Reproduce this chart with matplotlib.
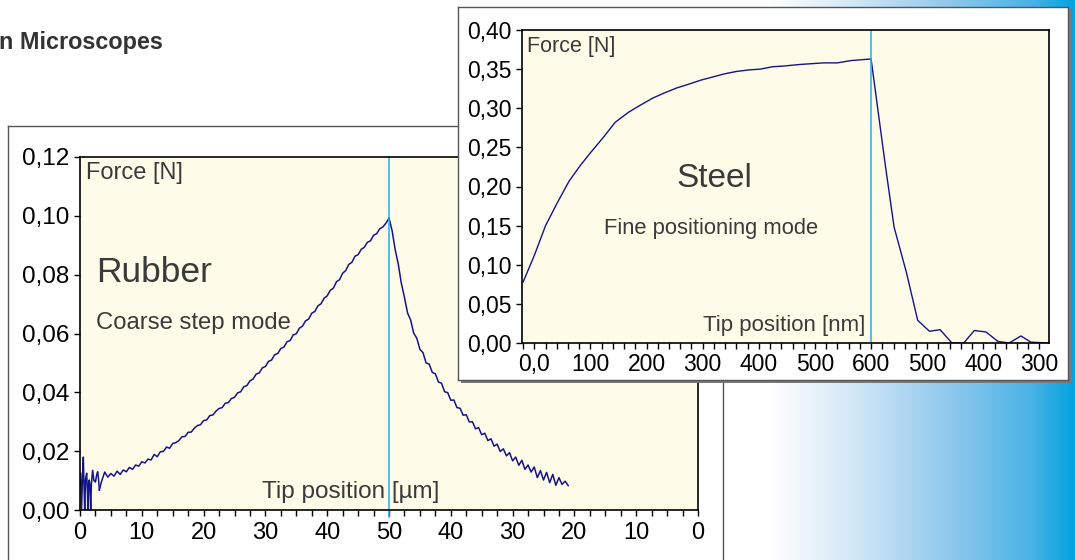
import matplotlib
matplotlib.use('Agg')
import matplotlib.pyplot as plt
import numpy as np
from matplotlib.ticker import MultipleLocator, FuncFormatter

plt.rcParams['font.family'] = ['Liberation Sans', 'DejaVu Sans']

# Rubber, coarse step mode: tip travel unfolded to 0..100 um (0-50 approach, 50-100 retract)
rubber_spike_pos = [0.1, 0.25, 0.4, 0.54, 0.65, 0.76, 0.9, 1.08, 1.2, 1.3, 1.4, 1.5,
                    1.6, 1.73, 1.85, 2.05, 2.25, 2.5, 2.7, 2.86, 3.0, 3.13]
rubber_spike_mN = [12.5, 0.0, 11.0, 18.0, 8.0, 0.0, 10.5, 12.5, 6.0, 0.0, 9.0, 10.2,
                   8.5, 0.0, 9.0, 13.5, 10.0, 9.5, 12.0, 13.0, 10.5, 6.8]
rubber_approach_pos = np.arange(3.5, 50.01, 0.5)
rubber_approach_mN = [9.8, 12.9, 11.2, 12.4, 11.5, 13.2, 12.1, 13.6, 13.0, 14.5,
                      13.8, 15.3, 14.9, 16.4, 16.0, 17.3, 17.0, 18.9, 18.1, 19.8,
                      19.9, 21.4, 21.0, 22.6, 22.9, 23.6, 24.9, 25.0, 26.4, 26.5,
                      27.8, 28.7, 29.0, 30.4, 30.6, 32.1, 32.3, 33.6, 34.5, 34.8,
                      36.3, 36.5, 37.9, 38.3, 39.8, 40.2, 41.9, 42.3, 43.9, 44.5,
                      46.2, 46.6, 48.3, 48.8, 50.5, 51.0, 52.8, 53.2, 54.9, 55.4,
                      57.2, 57.6, 59.5, 59.9, 61.8, 62.5, 64.3, 64.9, 66.9, 67.5,
                      69.4, 70.1, 72.0, 72.8, 74.7, 75.4, 77.6, 78.3, 80.5, 81.4,
                      83.5, 84.2, 86.3, 86.8, 88.6, 89.3, 91.0, 91.5, 93.4, 93.9,
                      95.6, 96.2, 97.5, 99.2]
rubber_retract_pos = np.arange(50.5, 79.01, 0.5)
rubber_retract_mN = [95.0, 88.5, 83.6, 77.0, 72.3, 67.0, 64.6, 60.1, 58.4, 54.6,
                     53.5, 50.0, 49.6, 46.8, 46.3, 43.5, 43.1, 40.2, 39.9, 37.3,
                     37.4, 34.8, 34.6, 32.2, 32.4, 29.9, 30.0, 27.6, 28.0, 25.6,
                     26.1, 23.6, 24.2, 21.7, 22.4, 19.9, 20.8, 18.4, 19.5, 16.7,
                     18.0, 15.2, 16.9, 13.8, 15.3, 12.9, 14.6, 11.0, 13.4, 10.2,
                     12.8, 9.3, 12.1, 8.4, 11.0, 8.7, 9.8, 8.3]
rubber_ticks = np.arange(0, 101, 10)
rubber_ticklabels = ['0', '10', '20', '30', '40', '50', '40', '30', '20', '10', '0']

# Steel, fine positioning mode: tip travel unfolded (0-600 approach, then retract)
steel_pos = [-20, 0, 20, 40, 62, 82, 101, 122, 144, 168, 189, 211, 233, 254, 276,
             297, 318, 339, 360, 382, 403, 424, 445, 474, 495, 516, 540, 565, 583, 600,
             625, 641, 663, 683, 704, 723, 744, 765, 784, 805, 826, 846, 867, 885, 916]
steel_force = [0.078, 0.112, 0.150, 0.178, 0.207, 0.227, 0.244, 0.262, 0.282, 0.295,
               0.304, 0.313, 0.320, 0.326, 0.331, 0.336, 0.340, 0.344, 0.347, 0.349,
               0.350, 0.353, 0.354, 0.356, 0.357, 0.358, 0.358, 0.361, 0.362, 0.363,
               0.229, 0.148, 0.090, 0.029, 0.015, 0.017, 0.0, 0.0, 0.016, 0.014,
               0.002, 0.0, 0.009, 0.001, 0.0]
steel_ticks = np.arange(0, 901, 100)
steel_ticklabels = ['0,0', '100', '200', '300', '400', '500', '600', '500', '400', '300']

W, H = 1075, 560
LINE = '#14148a'
CYAN = '#1cb0ee'
CREAM = '#fefce8'
TXT = '#3a3a3a'


def box(x0, y0, x1, y1):
    # pixel box (top-left origin) -> figure fraction rect
    return [x0 / W, 1 - y1 / H, (x1 - x0) / W, (y1 - y0) / H]


comma = FuncFormatter(lambda v, p: f'{v:.2f}'.replace('.', ','))

fig = plt.figure(figsize=(W / 100, H / 100), dpi=100)

# background with blue gradient on the right
bg = fig.add_axes([0, 0, 1, 1], zorder=0)
grad_x = [0, 770, 850, 950, 1030, 1075]
grad_r = [255, 255, 212, 143, 74, 0]
grad_g = [255, 255, 232, 200, 179, 163]
grad_b = [255, 255, 247, 236, 230, 223]
xs = np.arange(W)
img = np.stack([np.interp(xs, grad_x, grad_r), np.interp(xs, grad_x, grad_g),
                np.interp(xs, grad_x, grad_b)], axis=-1)[None, :, :] / 255
bg.imshow(img, extent=[0, W, H, 0], aspect='auto')
bg.set_xlim(0, W)
bg.set_ylim(H, 0)
bg.axis('off')
bg.text(-1, 42, 'n Microscopes', fontsize=16.8, fontweight='bold', color='#333333',
        va='center', ha='left')

# rubber panel
rp = fig.add_axes(box(8, 126, 723, 600), zorder=0.5)
rp.set_facecolor('white')
rp.set_xticks([])
rp.set_yticks([])
for s in rp.spines.values():
    s.set_color('#555555')
    s.set_linewidth(1)

ax1 = fig.add_axes(box(80, 157, 698, 510), zorder=1)
ax1.set_facecolor(CREAM)
ax1.plot(rubber_spike_pos, np.array(rubber_spike_mN) / 1000, color=LINE, lw=1.1)
ax1.plot(np.concatenate([[rubber_spike_pos[-1]], rubber_approach_pos]),
         np.array([rubber_spike_mN[-1]] + rubber_approach_mN) / 1000, color=LINE, lw=1.1)
ax1.plot(np.concatenate([[rubber_approach_pos[-1]], rubber_retract_pos]),
         np.array([rubber_approach_mN[-1]] + rubber_retract_mN) / 1000, color=LINE, lw=1.1)
ax1.axvline(50, ymin=-0.02, ymax=1, color=CYAN, lw=1.1, clip_on=False)
ax1.set_xlim(0, 100)
ax1.set_ylim(0, 0.12)
ax1.set_xticks(rubber_ticks)
ax1.set_xticklabels(rubber_ticklabels)
ax1.xaxis.set_minor_locator(MultipleLocator(2.5))
ax1.set_yticks(np.arange(0, 0.121, 0.02))
ax1.yaxis.set_major_formatter(comma)
ax1.tick_params(which='both', direction='out', length=4.5, width=1, colors='black',
                labelsize=17.5, pad=3)
ax1.tick_params(axis='x', labelsize=17, pad=4)
for s in ax1.spines.values():
    s.set_linewidth(1.2)
ax1.text(0.01, 0.985, 'Force [N]', transform=ax1.transAxes, fontsize=17, color=TXT,
         ha='left', va='top')
ax1.text(0.026, 0.674, 'Rubber', transform=ax1.transAxes, fontsize=25.5, color=TXT,
         ha='left', va='center')
ax1.text(0.026, 0.53, 'Coarse step mode', transform=ax1.transAxes, fontsize=17.2,
         color=TXT, ha='left', va='center')
ax1.text(0.4385, 0.051, 'Tip position [µm]', transform=ax1.transAxes, fontsize=17.5,
         color=TXT, ha='center', va='center', zorder=1)

# steel panel with shadow
sh = fig.add_axes(box(461, 10, 1071, 383), zorder=1.8)
sh.axis('off')
sh.add_patch(plt.Rectangle((0, 0), 1, 1, transform=sh.transAxes, color='#7a7a7a'))
sp = fig.add_axes(box(458, 7, 1068, 380), zorder=1.9)
sp.set_facecolor('white')
sp.set_xticks([])
sp.set_yticks([])
for s in sp.spines.values():
    s.set_color('#555555')
    s.set_linewidth(1)

ax2 = fig.add_axes(box(522, 30, 1049, 343), zorder=2)
ax2.set_facecolor(CREAM)
ax2.plot(steel_pos, steel_force, color=LINE, lw=1)
ax2.axvline(600, color=CYAN, lw=1.1)
ax2.set_xlim(-22, 917)
ax2.set_ylim(0, 0.40)
ax2.set_xticks(steel_ticks)
ax2.set_xticklabels(steel_ticklabels)
ax2.xaxis.set_minor_locator(MultipleLocator(20))
ax2.set_yticks(np.arange(0, 0.401, 0.05))
ax2.yaxis.set_major_formatter(comma)
ax2.tick_params(which='both', direction='out', length=4.5, width=1, colors='black',
                labelsize=16.5, pad=3)
ax2.tick_params(axis='x', pad=3)
for s in ax2.spines.values():
    s.set_linewidth(1.2)
ax2.text(0.0095, 0.98, 'Force [N]', transform=ax2.transAxes, fontsize=15.5, color=TXT,
         ha='left', va='top')
ax2.text(0.366, 0.527, 'Steel', transform=ax2.transAxes, fontsize=24, color=TXT,
         ha='center', va='center')
ax2.text(0.359, 0.367, 'Fine positioning mode', transform=ax2.transAxes, fontsize=15.8,
         color=TXT, ha='center', va='center')
ax2.text(0.497, 0.0575, 'Tip position [nm]', transform=ax2.transAxes, fontsize=16,
         color=TXT, ha='center', va='center')

fig.savefig('out.png', dpi=100)
